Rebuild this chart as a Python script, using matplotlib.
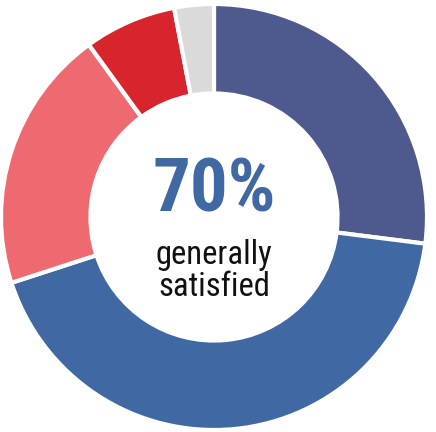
import matplotlib
matplotlib.use("Agg")
import matplotlib.pyplot as plt
from matplotlib import font_manager

# Satisfaction shares, clockwise from 12 o'clock
categories = ["Very satisfied", "Satisfied", "Neutral", "Dissatisfied", "No answer"]
shares = [27, 43, 20, 7, 3]
colors = ["#4E5A8E", "#4068A3", "#EE6A70", "#D7242D", "#DADADA"]
headline = "70%"
caption_lines = ["generally", "satisfied"]

names = {f.name for f in font_manager.fontManager.ttflist}
family = [n for n in ["Roboto Condensed", "Liberation Sans Narrow", "Roboto", "DejaVu Sans"] if n in names]

fig = plt.figure(figsize=(4.36, 4.32), dpi=100)
ax = fig.add_axes([0, 0, 1, 1])

ax.pie(shares, colors=colors, startangle=90, counterclock=False, radius=1.0,
       wedgeprops=dict(width=0.42, edgecolor="white", linewidth=3))

# one data unit = outer radius in pixels
R = 213.0
cx, cy = 214.0, 217.0
ax.set_xlim(-cx / R, (436 - cx) / R)
ax.set_ylim(-(432 - cy) / R, cy / R)
ax.set_aspect("equal")
ax.axis("off")

ax.text(0, 0.028, headline, ha="center", va="baseline", fontsize=54,
        fontweight="bold", color="#4068A3", family=family)
for line, yb in zip(caption_lines, [-0.2207, -0.371]):
    ax.text(0, yb, line, ha="center", va="baseline", fontsize=23.5,
            color="#111111", family=family)

fig.savefig("out.png", dpi=100)
